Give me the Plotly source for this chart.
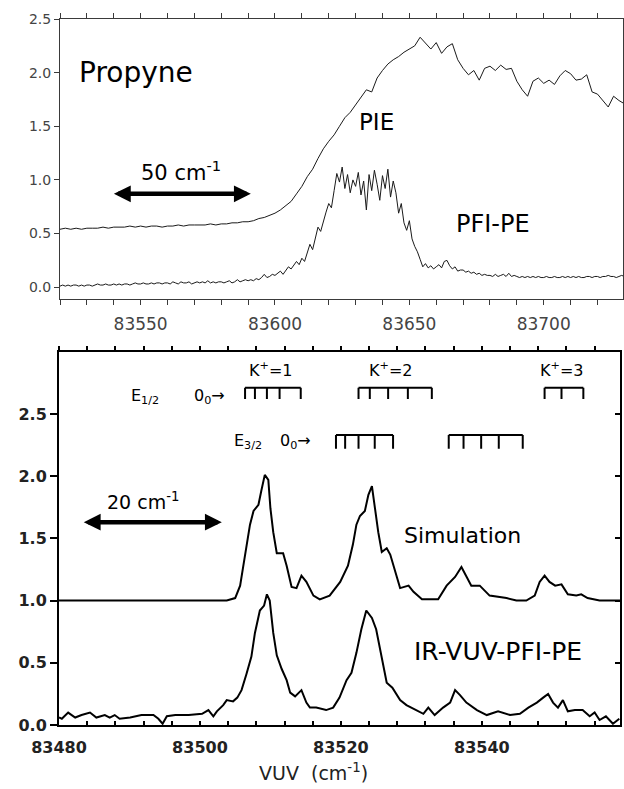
import numpy as np
import plotly.graph_objects as go

# ---------------- Top panel data (Propyne PIE / PFI-PE) ----------------
pie_x = np.arange(83520, 83731, 2)
pie_y = [0.54, 0.55, 0.54, 0.55, 0.54, 0.55, 0.55, 0.55, 0.56, 0.55,
         0.56, 0.56, 0.56, 0.57, 0.56, 0.57, 0.56, 0.57, 0.57, 0.56,
         0.57, 0.57, 0.58, 0.57, 0.58, 0.58, 0.58, 0.58, 0.59, 0.58,
         0.59, 0.59, 0.60, 0.60, 0.61, 0.61, 0.62, 0.64, 0.65, 0.67,
         0.69, 0.72, 0.76, 0.80, 0.87, 0.94, 1.03, 1.10, 1.20, 1.29,
         1.36, 1.42, 1.50, 1.58, 1.63, 1.70, 1.76, 1.84, 1.82, 1.95,
         2.02, 2.08, 2.12, 2.15, 2.19, 2.22, 2.25, 2.33, 2.27, 2.22,
         2.28, 2.18, 2.24, 2.27, 2.12, 2.04, 1.98, 2.02, 1.93, 2.04,
         2.06, 2.02, 2.07, 2.03, 2.04, 1.92, 1.84, 1.78, 1.92, 1.95,
         1.90, 1.93, 1.89, 1.97, 2.02, 1.99, 1.93, 1.94, 1.98, 1.82,
         1.80, 1.74, 1.68, 1.78, 1.74, 1.71]

pfi_x = np.arange(83520, 83731, 1)
pfi_y = [0.01, 0.02, 0.01, 0.02, 0.01, 0.02, 0.02, 0.01, 0.02, 0.01,
         0.02, 0.02, 0.01, 0.02, 0.03, 0.02, 0.02, 0.03, 0.02, 0.02,
         0.03, 0.02, 0.03, 0.02, 0.03, 0.03, 0.02, 0.03, 0.04, 0.03,
         0.03, 0.04, 0.03, 0.03, 0.04, 0.03, 0.04, 0.04, 0.03, 0.04,
         0.04, 0.03, 0.05, 0.04, 0.03, 0.05, 0.04, 0.04, 0.05, 0.03,
         0.04, 0.05, 0.04, 0.05, 0.04, 0.06, 0.04, 0.05, 0.04, 0.05,
         0.05, 0.04, 0.05, 0.06, 0.04, 0.05, 0.07, 0.05, 0.06, 0.07,
         0.06, 0.07, 0.06, 0.08, 0.07, 0.09, 0.12, 0.09, 0.10, 0.12,
         0.11, 0.13, 0.15, 0.12, 0.16, 0.19, 0.17, 0.20, 0.24, 0.21,
         0.27, 0.24, 0.33, 0.40, 0.35, 0.46, 0.56, 0.52, 0.62, 0.70,
         0.78, 0.74, 0.90, 1.06, 0.98, 1.12, 0.92, 1.05, 0.88, 1.00,
         0.94, 1.07, 0.86, 0.99, 0.72, 1.05, 0.90, 1.09, 0.96, 0.81,
         1.04, 0.92, 1.10, 0.84, 0.99, 0.88, 0.69, 0.78, 0.60, 0.53,
         0.62, 0.45, 0.38, 0.33, 0.26, 0.19, 0.22, 0.18, 0.20, 0.17,
         0.19, 0.21, 0.18, 0.24, 0.25, 0.20, 0.17, 0.19, 0.15, 0.16,
         0.16, 0.14, 0.15, 0.13, 0.14, 0.12, 0.13, 0.11, 0.12, 0.11,
         0.11, 0.10, 0.12, 0.10, 0.11, 0.12, 0.10, 0.13, 0.10, 0.11,
         0.10, 0.09, 0.10, 0.09, 0.10, 0.09, 0.10, 0.09, 0.10, 0.09,
         0.09, 0.10, 0.09, 0.09, 0.10, 0.09, 0.09, 0.10, 0.09, 0.10,
         0.09, 0.10, 0.09, 0.10, 0.09, 0.09, 0.10, 0.10, 0.09, 0.10,
         0.10, 0.09, 0.10, 0.10, 0.11, 0.10, 0.10, 0.09, 0.10, 0.11, 0.10]

top_xticks = [83550, 83600, 83650, 83700]
top_yticks = [0.0, 0.5, 1.0, 1.5, 2.0, 2.5]

# ---------------- Bottom panel data (Simulation / IR-VUV-PFI-PE) ----------------
sim_x = [83480, 83503.8, 83505.0, 83505.7, 83506.1, 83506.6, 83507.1, 83507.6,
         83508.3, 83508.7, 83509.2, 83509.7, 83510.0, 83510.4, 83510.9, 83511.8,
         83512.3, 83513.0, 83513.7, 83514.4, 83515.1, 83516.1, 83517.0, 83518.4,
         83519.9, 83521.0, 83521.7, 83522.2, 83522.7, 83523.4, 83523.9, 83524.4,
         83524.8, 83525.3, 83525.8, 83526.5, 83527.0, 83527.7, 83528.4, 83529.6,
         83530.3, 83531.5, 83533.8, 83535.0, 83536.2, 83537.1, 83537.8, 83538.5,
         83539.7, 83541.1, 83543.5, 83544.9, 83546.3, 83547.5, 83548.2, 83548.9,
         83549.6, 83550.4, 83551.3, 83552.2, 83553.4, 83554.1, 83555.0, 83556.7,
         83559.6]
sim_y = [1.00, 1.00, 1.02, 1.12, 1.26, 1.45, 1.61, 1.72,
         1.77, 1.88, 2.01, 1.97, 1.74, 1.55, 1.38, 1.38,
         1.28, 1.11, 1.10, 1.20, 1.15, 1.04, 1.01, 1.04,
         1.15, 1.28, 1.45, 1.61, 1.68, 1.72, 1.85, 1.92,
         1.74, 1.55, 1.39, 1.42, 1.37, 1.23, 1.10, 1.12,
         1.07, 1.01, 1.01, 1.12, 1.19, 1.27, 1.20, 1.12,
         1.12, 1.04, 1.02, 1.00, 1.00, 1.04, 1.15, 1.20,
         1.15, 1.12, 1.13, 1.05, 1.04, 1.05, 1.02, 1.00,
         1.00]

exp_x = [83480.0, 83480.4, 83481.3, 83482.3, 83483.2, 83484.4, 83485.3, 83486.5,
         83487.2, 83487.9, 83488.6, 83490.1, 83491.7, 83493.4, 83494.1, 83494.7,
         83495.3, 83496.5, 83498.4, 83500.3, 83501.2, 83501.9, 83502.4, 83503.3,
         83503.8, 83504.7, 83505.3, 83505.9, 83506.6, 83507.3, 83507.8, 83508.2,
         83508.5, 83509.1, 83509.5, 83509.9, 83510.4, 83510.9, 83511.6, 83512.3,
         83512.8, 83513.5, 83514.4, 83515.1, 83515.6, 83516.5, 83517.9, 83518.9,
         83519.8, 83520.8, 83521.5, 83522.2, 83522.9, 83523.6, 83524.4, 83525.0,
         83525.8, 83526.5, 83527.3, 83528.4, 83529.3, 83530.7, 83531.7, 83532.4,
         83533.3, 83534.5, 83535.5, 83536.2, 83536.9, 83537.8, 83539.3, 83540.7,
         83542.3, 83544.0, 83545.4, 83546.6, 83547.8, 83548.7, 83549.4, 83550.1,
         83550.8, 83551.5, 83552.2, 83553.2, 83554.3, 83555.3, 83556.0, 83556.7,
         83557.6, 83558.6, 83559.5]
exp_y = [0.06, 0.05, 0.10, 0.06, 0.08, 0.10, 0.06, 0.08,
         0.06, 0.08, 0.05, 0.06, 0.08, 0.08, 0.05, 0.01,
         0.07, 0.08, 0.08, 0.09, 0.12, 0.07, 0.11, 0.16,
         0.20, 0.19, 0.22, 0.28, 0.41, 0.55, 0.74, 0.85,
         0.92, 0.96, 1.05, 1.00, 0.74, 0.56, 0.45, 0.36,
         0.26, 0.23, 0.28, 0.18, 0.14, 0.14, 0.12, 0.14,
         0.22, 0.36, 0.42, 0.58, 0.77, 0.92, 0.86, 0.77,
         0.53, 0.34, 0.30, 0.20, 0.16, 0.12, 0.09, 0.14,
         0.08, 0.14, 0.18, 0.28, 0.24, 0.18, 0.12, 0.08,
         0.11, 0.08, 0.09, 0.14, 0.18, 0.22, 0.25, 0.18,
         0.14, 0.20, 0.11, 0.12, 0.12, 0.07, 0.10, 0.04,
         0.07, 0.01, 0.05]

# rotational line positions (stick "combs")
k1_e12 = [83506.4, 83507.8, 83509.5, 83511.3, 83514.3]
k2_e12 = [83522.5, 83524.1, 83526.7, 83529.5, 83532.9]
k3_e12 = [83548.9, 83551.3, 83554.4]
e32_a = [83519.3, 83520.6, 83522.5, 83524.8, 83527.4]
e32_b = [83535.3, 83537.4, 83539.9, 83542.4, 83545.8]

bot_xticks = [83480, 83500, 83520, 83540]
bot_yticks = [0.0, 0.5, 1.0, 1.5, 2.0, 2.5]

FONT = "DejaVu Sans"

fig = go.Figure()

fig.add_trace(go.Scatter(x=pie_x, y=pie_y, mode="lines",
                         line=dict(color="#1a1a1a", width=1), xaxis="x", yaxis="y"))
fig.add_trace(go.Scatter(x=pfi_x, y=pfi_y, mode="lines",
                         line=dict(color="#1a1a1a", width=1), xaxis="x", yaxis="y"))

fig.add_trace(go.Scatter(x=sim_x, y=sim_y, mode="lines",
                         line=dict(color="black", width=2), xaxis="x2", yaxis="y2"))
fig.add_trace(go.Scatter(x=exp_x, y=exp_y, mode="lines",
                         line=dict(color="black", width=2), xaxis="x2", yaxis="y2"))


def comb(ticks, ytop, ybot):
    xs = [ticks[0], ticks[-1], None]
    ys = [ytop, ytop, None]
    for t in ticks:
        xs += [t, t, None]
        ys += [ytop, ybot, None]
    return xs, ys


for ticks, yt, yb in [(k1_e12, 2.71, 2.62), (k2_e12, 2.71, 2.62), (k3_e12, 2.71, 2.62),
                      (e32_a, 2.33, 2.22), (e32_b, 2.33, 2.22)]:
    xs, ys = comb(ticks, yt, yb)
    fig.add_trace(go.Scatter(x=xs, y=ys, mode="lines",
                             line=dict(color="black", width=2), xaxis="x2", yaxis="y2"))

# invisible trace to activate overlay axes
fig.add_trace(go.Scatter(x=[83480], y=[0], mode="markers", marker=dict(opacity=0),
                         xaxis="x3", yaxis="y3", hoverinfo="skip"))

TOPCOL = "#3a3a3a"
common = dict(showgrid=False, zeroline=False, automargin=False)
BOTFONT = dict(family=FONT, size=16, color="#222", weight="bold")
layout = dict(
    width=624, height=789,
    margin=dict(l=0, r=0, t=0, b=0, autoexpand=False),
    paper_bgcolor="white", plot_bgcolor="white",
    showlegend=False,
    font=dict(family=FONT, color="black"),
    xaxis=dict(domain=[60 / 624, 623 / 624], anchor="y", range=[83520, 83729.5],
               tickvals=top_xticks, tickformat="d", ticks="outside", ticklen=5,
               tickcolor=TOPCOL, ticklabelstandoff=5,
               minor=dict(dtick=10, tick0=83520, ticks="outside", ticklen=5, tickcolor=TOPCOL),
               showline=True, linecolor=TOPCOL, linewidth=1, mirror="allticks",
               tickfont=dict(family=FONT, size=17, color="#444"), **common),
    yaxis=dict(domain=[1 - 299 / 789, 1 - 19 / 789], anchor="x", range=[-0.11, 2.5],
               tickvals=top_yticks, tickformat=".1f", ticks="outside", ticklen=5,
               tickcolor=TOPCOL, showline=True, linecolor=TOPCOL, linewidth=1,
               mirror=True,
               tickfont=dict(family=FONT, size=14, color="#444"), **common),
    xaxis2=dict(domain=[59 / 624, 620 / 624], anchor="y2", range=[83480, 83559.6],
                tickvals=bot_xticks, tickformat="d", ticks="inside", ticklen=4,
                tickcolor="black", tickwidth=1.5, ticklabelstandoff=7,
                minor=dict(dtick=4, tick0=83480, ticks="inside", ticklen=4,
                           tickcolor="black", tickwidth=1.5),
                showline=True, linecolor="black", linewidth=2,
                tickfont=BOTFONT, **common),
    yaxis2=dict(domain=[1 - 725 / 789, 1 - 351.7 / 789], anchor="x2", range=[0, 3.0],
                tickvals=bot_yticks, tickformat=".1f", ticks="outside", ticklen=7,
                tickcolor="black", tickwidth=1.5,
                showline=True, linecolor="black", linewidth=2,
                tickfont=BOTFONT, **common),
    xaxis3=dict(overlaying="x2", side="top", anchor="y2", range=[83480, 83559.6],
                dtick=4, tick0=83480, ticks="outside", ticklen=4, tickcolor="black",
                tickwidth=1.5, showticklabels=False,
                showline=True, linecolor="black", linewidth=2, **common),
    yaxis3=dict(overlaying="y2", side="right", anchor="x2", range=[0, 3.0],
                tickvals=bot_yticks, ticks="inside", ticklen=5, tickcolor="black",
                tickwidth=1.5, showticklabels=False,
                showline=True, linecolor="black", linewidth=2, **common),
)
fig.update_layout(**layout)

ann = []


def txt(x, y, text, size, xref="x", yref="y", color="black"):
    ann.append(dict(x=x, y=y, xref=xref, yref=yref, text=text, showarrow=False,
                    xanchor="center", yanchor="middle",
                    font=dict(family=FONT, size=size, color=color)))


# top panel texts
txt(83548.3, 2.0, "Propyne", 28)
txt(83565, 1.08, "50 cm<sup>-1</sup>", 21)
txt(83637.8, 1.54, "PIE", 23)
txt(83681.3, 0.59, "PFI-PE", 24)

# bottom panel texts
txt(83491.9, 1.80, "20 cm<sup>-1</sup>", 19, "x2", "y2")
txt(83537.2, 1.52, "Simulation", 22, "x2", "y2")
txt(83542.3, 0.59, "IR-VUV-PFI-PE", 25, "x2", "y2")
txt(83510.0, 2.86, "K<sup>+</sup>=1", 16, "x2", "y2")
txt(83527.0, 2.86, "K<sup>+</sup>=2", 16, "x2", "y2")
txt(83551.3, 2.86, "K<sup>+</sup>=3", 16, "x2", "y2")
txt(83492.2, 2.64, "E<sub>1/2</sub>", 16, "x2", "y2")
txt(83501.3, 2.64, "0<sub>0</sub>→", 16, "x2", "y2")
txt(83506.8, 2.28, "E<sub>3/2</sub>", 16, "x2", "y2")
txt(83513.6, 2.28, "0<sub>0</sub>→", 16, "x2", "y2")

# axis title
ann.append(dict(x=313 / 624, y=1 - 786 / 789, xref="paper", yref="paper",
                text="VUV  (cm<sup>-1</sup>)", showarrow=False,
                xanchor="center", yanchor="bottom",
                font=dict(family=FONT, size=19, color="#222")))

# double-headed scale arrows
for (x0, x1, yv, xr, yr) in [(83539.5, 83591.0, 0.87, "x", "y"),
                             (83483.3, 83503.1, 1.63, "x2", "y2")]:
    ann.append(dict(x=x1, y=yv, ax=x0, ay=yv, xref=xr, yref=yr, axref=xr, ayref=yr,
                    text="", showarrow=True, arrowhead=2, arrowside="end+start",
                    arrowwidth=4.5, arrowsize=0.75, arrowcolor="black",
                    standoff=0, startstandoff=0))

fig.update_layout(annotations=ann)

fig.write_html("out.html")
